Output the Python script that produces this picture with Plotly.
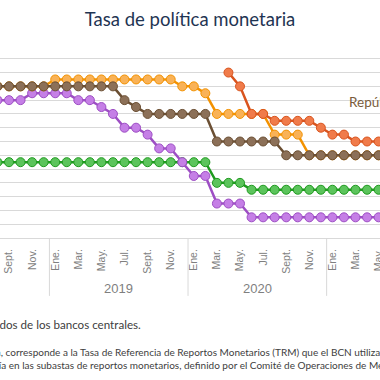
import plotly.graph_objects as go

# Months from Aug 2018 to Jun 2021
meses = ["2018-08", "2018-09", "2018-10", "2018-11", "2018-12",
         "2019-01", "2019-02", "2019-03", "2019-04", "2019-05", "2019-06",
         "2019-07", "2019-08", "2019-09", "2019-10", "2019-11", "2019-12",
         "2020-01", "2020-02", "2020-03", "2020-04", "2020-05", "2020-06",
         "2020-07", "2020-08", "2020-09", "2020-10", "2020-11", "2020-12",
         "2021-01", "2021-02", "2021-03", "2021-04", "2021-05", "2021-06"]

guatemala = [2.75] * 19 + [2.0] * 3 + [1.75] * 13
costa_rica = [5.0, 5.0, 5.0, 5.25, 5.25, 5.25, 5.25, 5.0, 5.0, 4.75, 4.5,
              4.0, 4.0, 3.75, 3.25, 3.25, 2.75, 2.25, 2.25, 1.25, 1.25, 1.25] + [0.75] * 13
honduras = [5.5] * 5 + [5.75] * 11 + [5.5, 5.5, 5.25] + [4.5] * 5 + [3.75] * 3 + [3.0] * 8
rep_dominicana = [5.5] * 11 + [5.0, 4.75] + [4.5] * 6 + [3.5] * 6 + [3.0] * 10
nicaragua = [None] * 20 + [6.0, 5.5, 4.5, 4.5, 4.25, 4.25, 4.25, 4.25, 4.0, 3.75, 3.75,
                           3.5, 3.5, 3.5, 3.5]

tick_meses = ["2018-09", "2018-11", "2019-01", "2019-03", "2019-05", "2019-07",
              "2019-09", "2019-11", "2020-01", "2020-03", "2020-05", "2020-07",
              "2020-09", "2020-11", "2021-01", "2021-03", "2021-05"]
tick_text = ["Sept.", "Nov.", "Ene.", "Mar.", "May.", "Jul.", "Sept.", "Nov.",
             "Ene.", "Mar.", "May.", "Jul.", "Sept.", "Nov.", "Ene.", "Mar.", "May."]
anios = ["2019", "2020"]

series = [
    ("Guatemala", guatemala, "#1f9a1f", "#5cc45c"),
    ("Costa Rica", costa_rica, "#9d4ec4", "#c57fe6"),
    ("Honduras", honduras, "#f39200", "#f9b257"),
    ("República Dominicana", rep_dominicana, "#6b4f33", "#8c7058"),
    ("Nicaragua 1/", nicaragua, "#d9541e", "#f07b4a"),
]

fig = go.Figure()
for name, vals, lc, mc in series:
    fig.add_trace(go.Scatter(
        x=meses, y=vals, name=name, mode="lines+markers",
        line=dict(color=lc, width=2.5),
        marker=dict(size=9, color=mc, line=dict(color=lc, width=1)),
        connectgaps=False, showlegend=False,
    ))

idx = {m: i for i, m in enumerate(meses)}
# year separators
for m in ["2019-01", "2020-01", "2021-01"]:
    xs = idx[m] - 0.5
    fig.add_shape(type="line", xref="x", yref="paper", x0=xs, x1=xs, y0=0, y1=-0.30,
                  line=dict(color="#d9d9d9", width=1))
for a in anios:
    xc = (idx[a + "-01"] + idx[a + "-12"]) / 2
    fig.add_annotation(x=xc, y=-0.262, xref="x", yref="paper", text=a, showarrow=False,
                       font=dict(family="Liberation Sans, Arial", size=13, color="#7f7f7f"),
                       xanchor="center", yanchor="middle")

fig.add_annotation(x=idx["2021-01"] + 1.27, y=4.92, xref="x", yref="y",
                   text="República Dominicana", showarrow=False, xanchor="left", yanchor="middle",
                   font=dict(family="Lato", size=13.5, color="#7a5c3c"))

notes_font = dict(family="Lato", color="#404040")
fig.add_annotation(x=143 / 380, y=-0.45, xref="paper", yref="paper",
                   text="Fuente: Elaboración propia con datos obtenidos de los bancos centrales.",
                   showarrow=False, xanchor="right", yanchor="middle",
                   font=dict(size=11.6, **notes_font))
fig.add_annotation(x=-0.21, y=-0.59, xref="paper", yref="paper",
                   text="1/ Para Nicaragua, corresponde a la Tasa de Referencia de Reportos Monetarios (TRM) que el BCN utiliza como referencia",
                   showarrow=False, xanchor="left", yanchor="middle",
                   font=dict(size=10, **notes_font))
fig.add_annotation(x=-0.078, y=-0.66, xref="paper", yref="paper",
                   text="a un día en las subastas de reportos monetarios, definido por el Comité de Operaciones de Mercado Abierto.",
                   showarrow=False, xanchor="left", yanchor="middle",
                   font=dict(size=10, **notes_font))

fig.update_layout(
    width=380, height=380,
    margin=dict(l=0, r=0, t=45, b=142),
    paper_bgcolor="white", plot_bgcolor="white",
    title=dict(text="Tasa de política monetaria", x=0.5, xanchor="center",
               y=1 - 20 / 380, yanchor="middle", yref="container",
               font=dict(family="Lato", size=18.5, color="#1f3553")),
    xaxis=dict(type="category", range=[0.22, 33.12], tickmode="array",
               tickvals=tick_meses, ticktext=tick_text, tickangle=-90,
               tickfont=dict(family="Liberation Sans, Arial", size=10.5, color="#7f7f7f"),
               showgrid=False, showline=True, linecolor="#d9d9d9", linewidth=1,
               ticks="", automargin=False, zeroline=False, ticklabelstandoff=6),
    yaxis=dict(range=[0, 7], dtick=0.5, showgrid=True, gridcolor="#d9d9d9", gridwidth=1,
               showticklabels=False, zeroline=False, automargin=False, showline=False),
)

fig.write_html("out.html", config={"displayModeBar": False},
               post_script="document.body.style.margin='0px';")
